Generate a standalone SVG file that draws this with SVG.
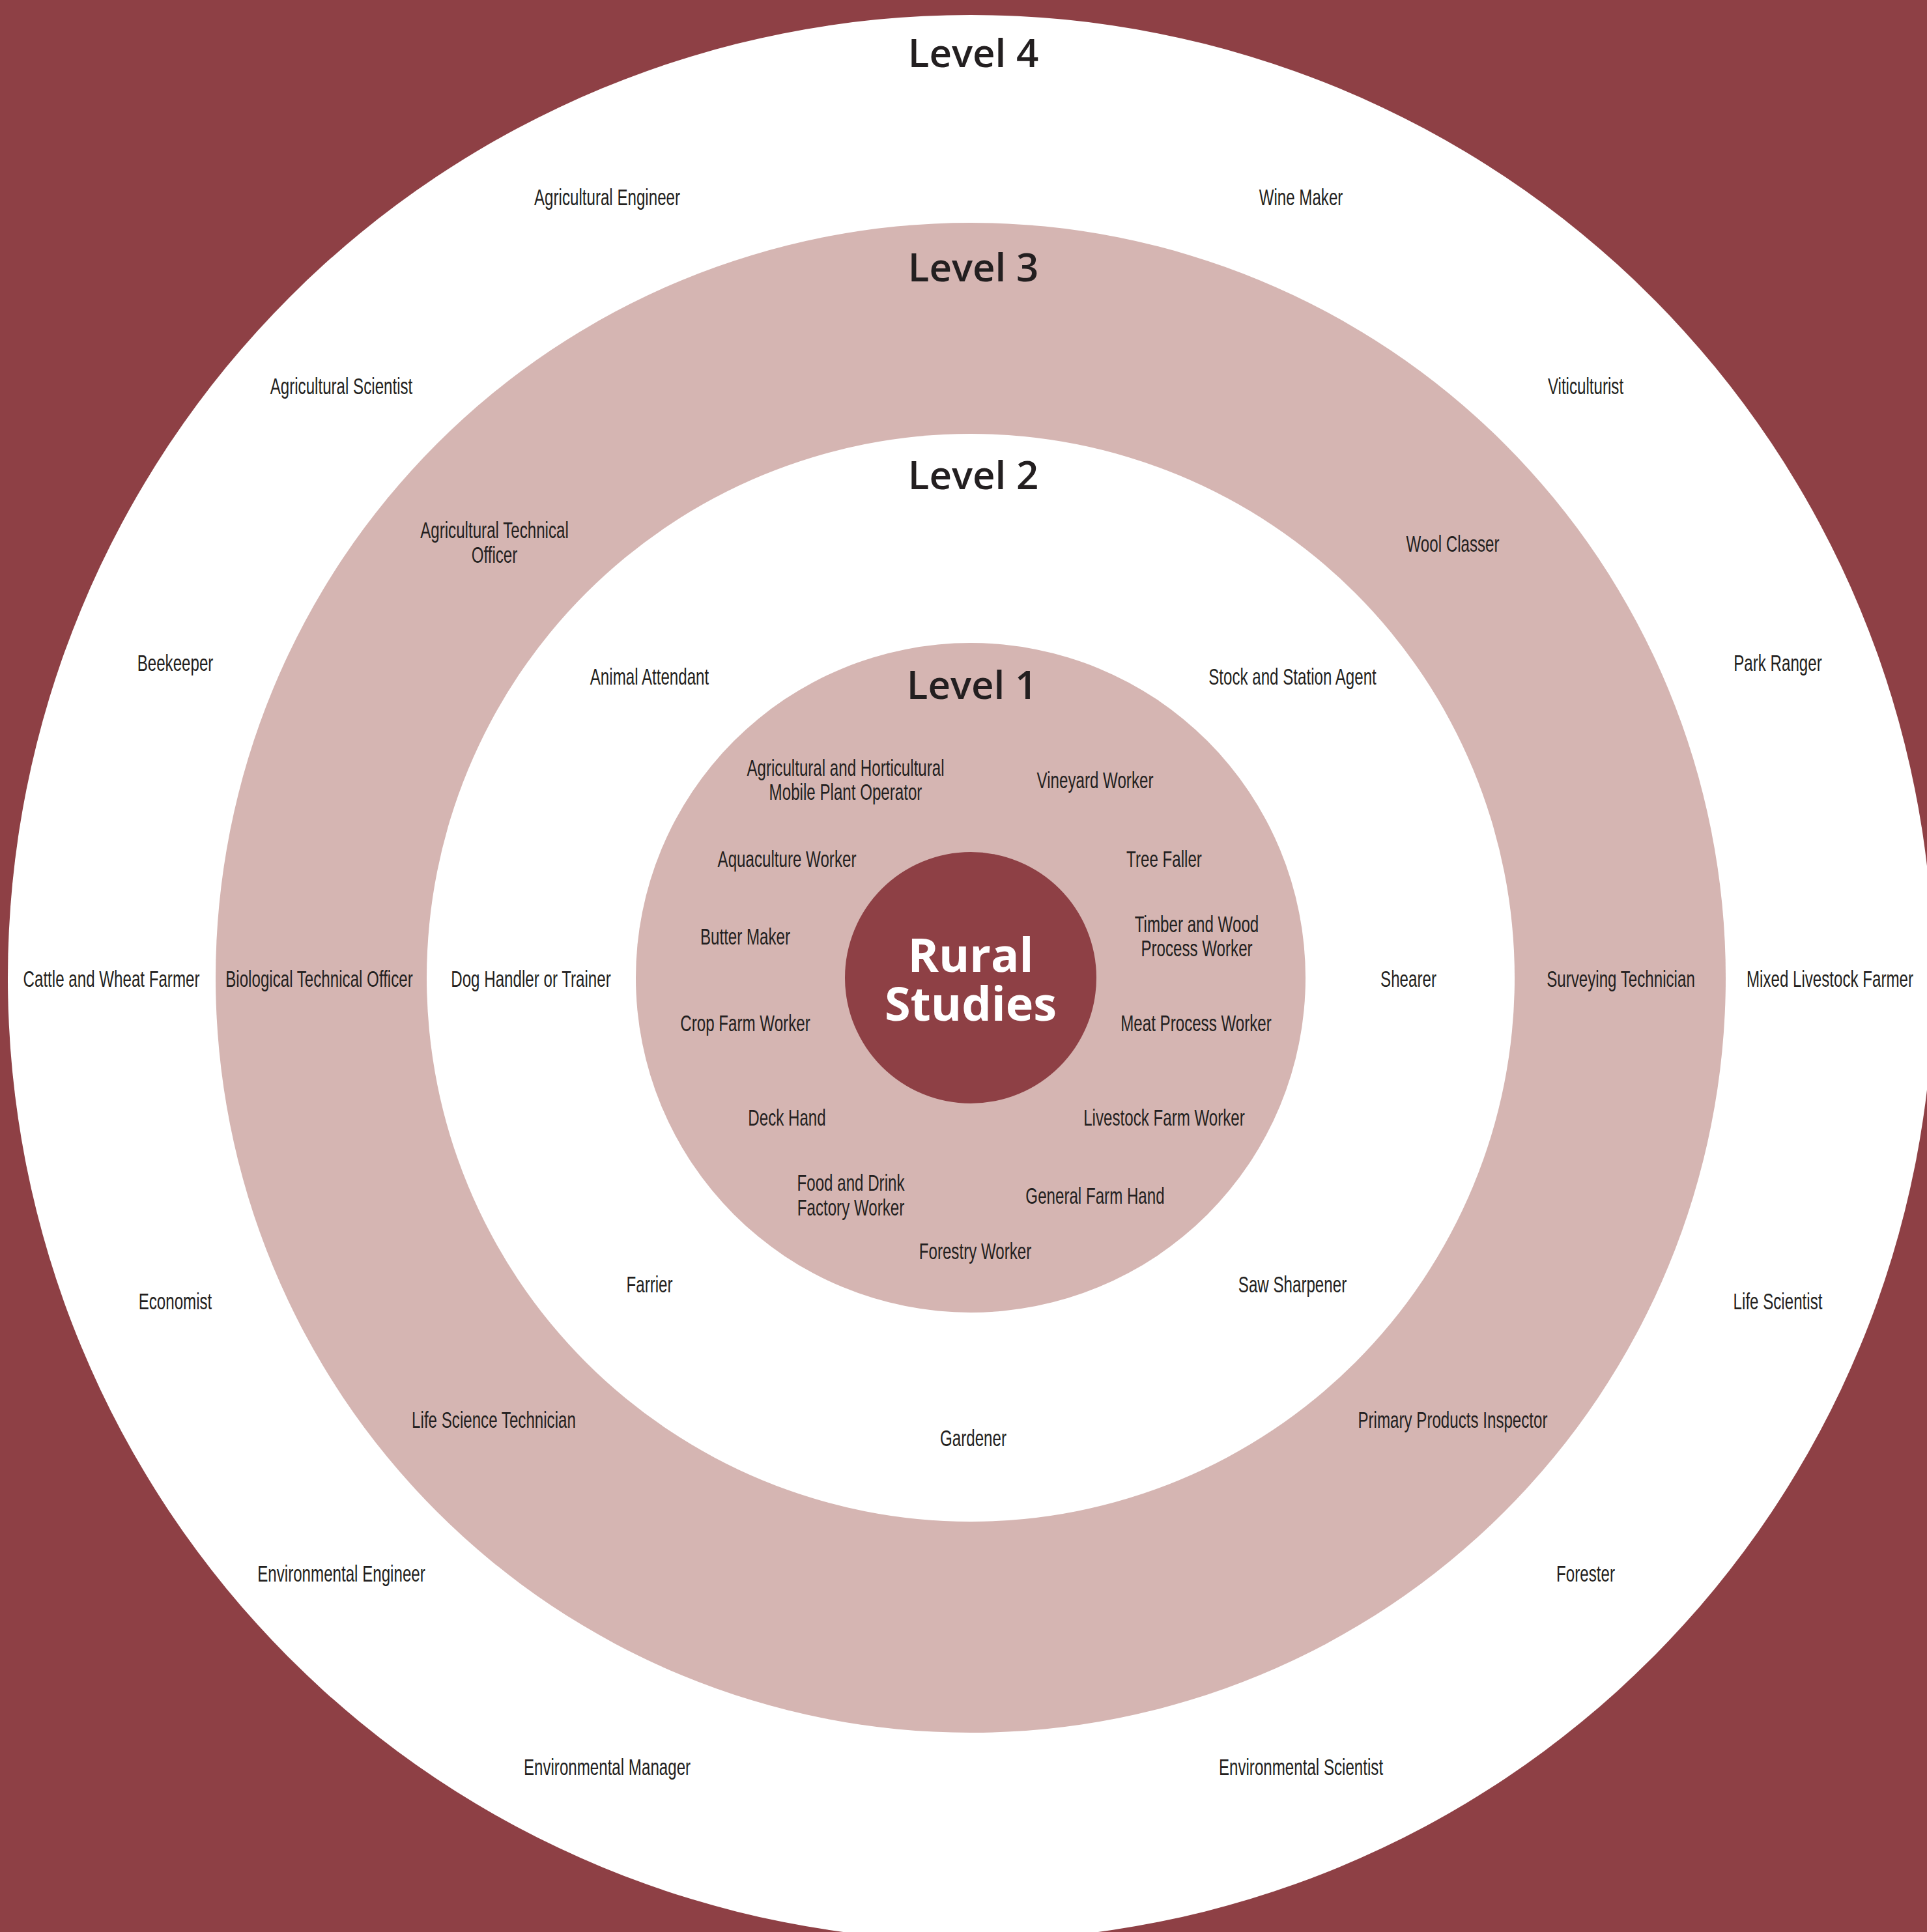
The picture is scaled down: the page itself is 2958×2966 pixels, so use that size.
<svg xmlns="http://www.w3.org/2000/svg" width="2958" height="2966" viewBox="0 0 2958 2966">
<style>
.lvl{font-family:"Open Sans","Noto Sans",sans-serif;font-weight:600;font-size:60px;fill:#231f20;text-anchor:middle}
.job{font-family:"Liberation Sans",Arial,sans-serif;font-size:35px;fill:#231f20;text-anchor:middle}
.core{font-family:"Open Sans","Noto Sans",sans-serif;font-weight:700;font-size:72px;fill:#ffffff;text-anchor:middle}
</style>
<rect id="background" x="0" y="0" width="2958" height="2966" fill="#8E4045"/>
<g id="rings">
<circle id="ring4" cx="1490" cy="1501" r="1478" fill="#ffffff"/>
<circle id="ring3" cx="1490" cy="1501" r="1159" fill="#D5B5B2"/>
<circle id="ring2" cx="1490" cy="1501" r="835" fill="#ffffff"/>
<circle id="ring1" cx="1490" cy="1501" r="514" fill="#D5B5B2"/>
</g>
<g id="connectors"/>
<g id="core">
<circle cx="1490" cy="1501" r="193" fill="#8E4045"/>
<text class="core" x="1490" y="1492">Rural</text>
<text class="core" x="1490" y="1567">Studies</text>
</g>
<g id="level-titles">
<text class="lvl" x="1494" y="103">Level 4</text>
<text class="lvl" x="1494" y="432">Level 3</text>
<text class="lvl" x="1494" y="751">Level 2</text>
<text class="lvl" x="1492" y="1073">Level 1</text>
</g>
<g id="level4-jobs">
<text class="job" transform="translate(932,315) scale(0.69,1)">Agricultural Engineer</text>
<text class="job" transform="translate(1997,315) scale(0.69,1)">Wine Maker</text>
<text class="job" transform="translate(524,605) scale(0.69,1)">Agricultural Scientist</text>
<text class="job" transform="translate(2434,605) scale(0.69,1)">Viticulturist</text>
<text class="job" transform="translate(269,1030) scale(0.69,1)">Beekeeper</text>
<text class="job" transform="translate(2729,1030) scale(0.69,1)">Park Ranger</text>
<text class="job" transform="translate(171,1515) scale(0.69,1)">Cattle and Wheat Farmer</text>
<text class="job" transform="translate(2809,1515) scale(0.69,1)">Mixed Livestock Farmer</text>
<text class="job" transform="translate(269,2010) scale(0.69,1)">Economist</text>
<text class="job" transform="translate(2729,2010) scale(0.69,1)">Life Scientist</text>
<text class="job" transform="translate(524,2428) scale(0.69,1)">Environmental Engineer</text>
<text class="job" transform="translate(2434,2428) scale(0.69,1)">Forester</text>
<text class="job" transform="translate(932,2725) scale(0.69,1)">Environmental Manager</text>
<text class="job" transform="translate(1997,2725) scale(0.69,1)">Environmental Scientist</text>
</g>
<g id="level3-jobs">
<text class="job" transform="translate(759,826) scale(0.69,1)"><tspan x="0" y="0">Agricultural Technical</tspan><tspan x="0" y="38">Officer</tspan></text>
<text class="job" transform="translate(2230,847) scale(0.69,1)">Wool Classer</text>
<text class="job" transform="translate(490,1515) scale(0.69,1)">Biological Technical Officer</text>
<text class="job" transform="translate(2488,1515) scale(0.69,1)">Surveying Technician</text>
<text class="job" transform="translate(758,2192) scale(0.69,1)">Life Science Technician</text>
<text class="job" transform="translate(2230,2192) scale(0.69,1)">Primary Products Inspector</text>
</g>
<g id="level2-jobs">
<text class="job" transform="translate(997,1051) scale(0.69,1)">Animal Attendant</text>
<text class="job" transform="translate(1984,1051) scale(0.69,1)">Stock and Station Agent</text>
<text class="job" transform="translate(815,1515) scale(0.69,1)">Dog Handler or Trainer</text>
<text class="job" transform="translate(2162,1515) scale(0.69,1)">Shearer</text>
<text class="job" transform="translate(997,1984) scale(0.69,1)">Farrier</text>
<text class="job" transform="translate(1984,1984) scale(0.69,1)">Saw Sharpener</text>
<text class="job" transform="translate(1494,2220) scale(0.69,1)">Gardener</text>
</g>
<g id="level1-jobs">
<text class="job" transform="translate(1298,1191) scale(0.69,1)"><tspan x="0" y="0">Agricultural and Horticultural</tspan><tspan x="0" y="37">Mobile Plant Operator</tspan></text>
<text class="job" transform="translate(1681,1210) scale(0.69,1)">Vineyard Worker</text>
<text class="job" transform="translate(1208,1331) scale(0.69,1)">Aquaculture Worker</text>
<text class="job" transform="translate(1787,1331) scale(0.69,1)">Tree Faller</text>
<text class="job" transform="translate(1144,1450) scale(0.69,1)">Butter Maker</text>
<text class="job" transform="translate(1837,1431) scale(0.69,1)"><tspan x="0" y="0">Timber and Wood</tspan><tspan x="0" y="37">Process Worker</tspan></text>
<text class="job" transform="translate(1144,1583) scale(0.69,1)">Crop Farm Worker</text>
<text class="job" transform="translate(1836,1583) scale(0.69,1)">Meat Process Worker</text>
<text class="job" transform="translate(1208,1728) scale(0.69,1)">Deck Hand</text>
<text class="job" transform="translate(1787,1728) scale(0.69,1)">Livestock Farm Worker</text>
<text class="job" transform="translate(1306,1828) scale(0.69,1)"><tspan x="0" y="0">Food and Drink</tspan><tspan x="0" y="38">Factory Worker</tspan></text>
<text class="job" transform="translate(1681,1848) scale(0.69,1)">General Farm Hand</text>
<text class="job" transform="translate(1497,1933) scale(0.69,1)">Forestry Worker</text>
</g>
</svg>
